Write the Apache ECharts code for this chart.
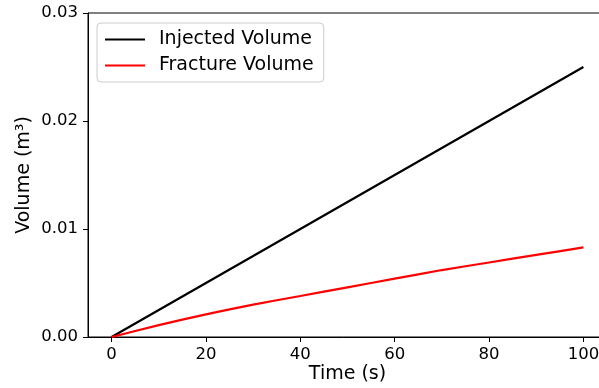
<!DOCTYPE html>
<html>
<head>
<meta charset="utf-8">
<script src="https://cdn.jsdelivr.net/npm/echarts@6/dist/echarts.min.js"></script>
<style>
html,body{margin:0;padding:0;background:#fff;}
#chart{width:599px;height:388px;}
</style>
</head>
<body>
<div id="chart"></div>
<script>
var time = [0, 10, 20, 30, 40, 50, 60, 70, 80, 90, 100];
var injectedVolume = [0, 0.0025, 0.005, 0.0075, 0.01, 0.0125, 0.015, 0.0175, 0.02, 0.0225, 0.025];
var fractureVolume = [0, 0.0011, 0.0021, 0.0030, 0.0038, 0.0046, 0.0054, 0.0062, 0.0069, 0.0076, 0.0083];
var xTicks = [0, 20, 40, 60, 80, 100];
var seriesNames = ['Injected Volume', 'Fracture Volume'];

function pairs(xs, ys) { return xs.map(function (x, i) { return [x, ys[i]]; }); }

var font = 'DejaVu Sans';
var chart = echarts.init(document.getElementById('chart'));
chart.setOption({
  animation: false,
  backgroundColor: '#fff',
  grid: { left: 88, top: 13, width: 519, height: 324, outerBoundsMode: 'none', containLabel: false, show: true, borderColor: '#000', borderWidth: 1, backgroundColor: 'transparent' },
  legend: {
    orient: 'vertical', left: 97, top: 23,
    padding: [7, 10, 7, 8], itemGap: 7, itemWidth: 40, itemHeight: 2, icon: 'rect',
    borderColor: '#cccccc', borderWidth: 1, borderRadius: 4, backgroundColor: 'rgba(255,255,255,0.8)',
    textStyle: { fontFamily: font, fontSize: 19, color: '#000', padding: [0, 0, 0, 9] },
    data: seriesNames
  },
  xAxis: {
    type: 'value', min: -5, max: 105,
    name: 'Time (s)', nameLocation: 'middle', nameGap: 27.5, nameMoveOverlap: false,
    nameTextStyle: { fontFamily: font, fontSize: 19, color: '#000' },
    axisLine: { show: true, onZero: false, lineStyle: { color: '#000', width: 1 } },
    axisTick: { show: true, length: 5, lineStyle: { color: '#000' }, customValues: xTicks },
    axisLabel: { fontFamily: font, fontSize: 16.5, color: '#000', margin: 9, customValues: xTicks },
    splitLine: { show: false }
  },
  yAxis: {
    type: 'value', min: 0, max: 0.03, interval: 0.01,
    name: 'Volume (m³)', nameLocation: 'middle', nameGap: 54, nameMoveOverlap: false,
    nameTextStyle: { fontFamily: font, fontSize: 19, color: '#000' },
    axisLine: { show: true, onZero: false, lineStyle: { color: '#000', width: 1 } },
    axisTick: { show: true, length: 5, lineStyle: { color: '#000' } },
    axisLabel: { fontFamily: font, fontSize: 16.5, color: '#000', margin: 10, formatter: function (v) { return v.toFixed(2); } },
    splitLine: { show: false }
  },
  series: [
    { name: seriesNames[0], type: 'line', data: pairs(time, injectedVolume), symbol: 'none', lineStyle: { color: '#000', width: 2.2 }, itemStyle: { color: '#000' } },
    { name: seriesNames[1], type: 'line', data: pairs(time, fractureVolume), symbol: 'none', smooth: 0.2, lineStyle: { color: '#ff0000', width: 2.2 }, itemStyle: { color: '#ff0000' } }
  ]
});
</script>
</body>
</html>
